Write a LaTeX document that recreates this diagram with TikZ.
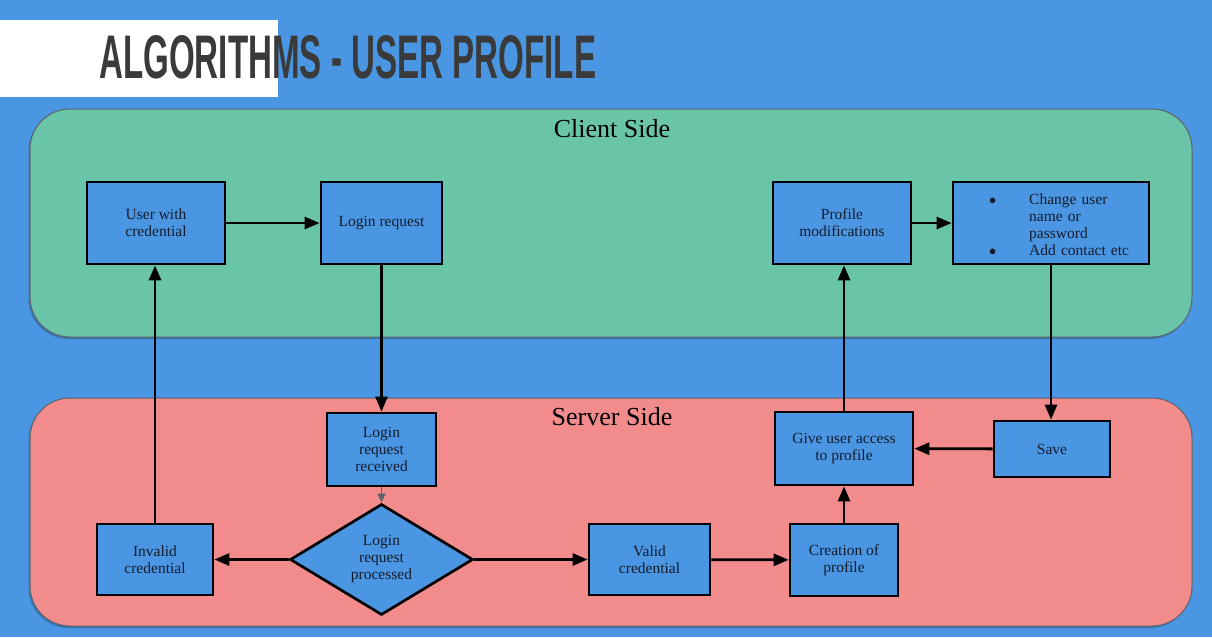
\documentclass[tikz,border=0pt]{standalone}
\usepackage{fontspec}
\setmainfont{Liberation Serif}
\newfontfamily\titlefont{Liberation Sans}
\usetikzlibrary{arrows.meta,shapes.geometric}
\definecolor{bgblue}{HTML}{4A96E2}
\definecolor{clientgreen}{HTML}{6AC4A8}
\definecolor{serverred}{HTML}{F28B8C}
\definecolor{panelline}{HTML}{5F6368}
\definecolor{titlegray}{HTML}{3A3A3A}
\definecolor{txt}{HTML}{141C2C}
\tikzset{
  panel/.style={draw=panelline, line width=1pt, rounded corners=40pt},
  paneltitle/.style={font=\fontsize{26}{30}\selectfont, text=black, inner sep=0pt},
  stepbox/.style={draw=black, line width=2.7pt, fill=bgblue, text=txt, align=center,
    font=\fontsize{15.5}{17}\selectfont, inner sep=2pt},
  decision/.style={diamond, draw=black, line width=2.7pt, fill=bgblue, text=txt, align=center,
    font=\fontsize{15.5}{17}\selectfont, inner sep=0pt, shape aspect=1.65},
  flow/.style={draw=black, line width=2.8pt, -{Triangle[length=15pt,width=12pt]}},
  thinflow/.style={draw=panelline, line width=1.4pt, -{Triangle[length=9pt,width=8pt]}}
}
\begin{document}
\begin{tikzpicture}[x=1pt,y=-1pt]
\useasboundingbox (0,0) rectangle (1212,637);
\fill[bgblue] (0,0) rectangle (1212,637);
% title
\fill[white] (0,20) rectangle (278,97);
\node[anchor=base west, inner sep=0pt, text=titlegray] (title) at (99,78)
  {\resizebox{497pt}{43pt}{\titlefont\bfseries ALGORITHMS - USER PROFILE}};
% panels
\fill[black, opacity=0.22, rounded corners=40pt] (28.5,111) rectangle (1190.5,339);
\fill[black, opacity=0.22, rounded corners=40pt] (28.5,400) rectangle (1190.5,628);
\draw[panel, fill=clientgreen] (30,109) rectangle (1192,337);
\draw[panel, fill=serverred] (30,398) rectangle (1192,626);
\node[paneltitle] (client) at (612,129) {Client Side};
\node[paneltitle] (server) at (612,417) {Server Side};
% client nodes
\node[stepbox, minimum width=138pt, minimum height=82pt] (user) at (156,223) {User with\\credential};
\node[stepbox, minimum width=121pt, minimum height=82pt] (login) at (381.5,223) {Login request};
\node[stepbox, minimum width=138pt, minimum height=82pt] (profmod) at (842,223) {Profile\\modifications};
\node[stepbox, minimum width=196pt, minimum height=82pt, text width=186pt, align=left,
  inner xsep=5pt] (changes) at (1051,223)
  {\hspace*{31pt}\raisebox{-7pt}[0pt][0pt]{\begin{tabular}{@{}l@{\hspace{33pt}}l@{}}$\bullet$ & Change user\\ & name or\\ & password\\ $\bullet$ & Add contact etc\end{tabular}}};
% server nodes
\node[stepbox, minimum width=109pt, minimum height=73pt] (received) at (381.5,449.5) {Login\\request\\received};
\node[decision, minimum width=183pt, minimum height=111pt] (processed) at (381.5,559.5) {Login\\request\\processed};
\node[stepbox, minimum width=116pt, minimum height=71pt] (invalid) at (155,559.5) {Invalid\\credential};
\node[stepbox, minimum width=121pt, minimum height=71pt] (valid) at (649.5,559.5) {Valid\\credential};
\node[stepbox, minimum width=108pt, minimum height=72pt] (creation) at (844,560) {Creation of\\profile};
\node[stepbox, minimum width=138pt, minimum height=73pt] (access) at (844,448.5) {Give user access\\to profile};
\node[stepbox, minimum width=116pt, minimum height=56pt] (save) at (1052,449) {Save};
% connectors
\draw[flow] (user) -- (login);
\draw[flow] (login) -- (received);
\draw[thinflow] (received) -- (processed);
\draw[flow] (processed) -- (invalid);
\draw[flow] (invalid.north) -- (invalid.north |- user.south);
\draw[flow] (processed) -- (valid);
\draw[flow] (valid) -- (creation);
\draw[flow] (creation) -- (access);
\draw[flow] (access.north) -- (access.north |- profmod.south);
\draw[flow] (profmod) -- (changes);
\draw[flow] (changes.south) -- (changes.south |- save.north);
\draw[flow] (save) -- (access);
\end{tikzpicture}
\end{document}
